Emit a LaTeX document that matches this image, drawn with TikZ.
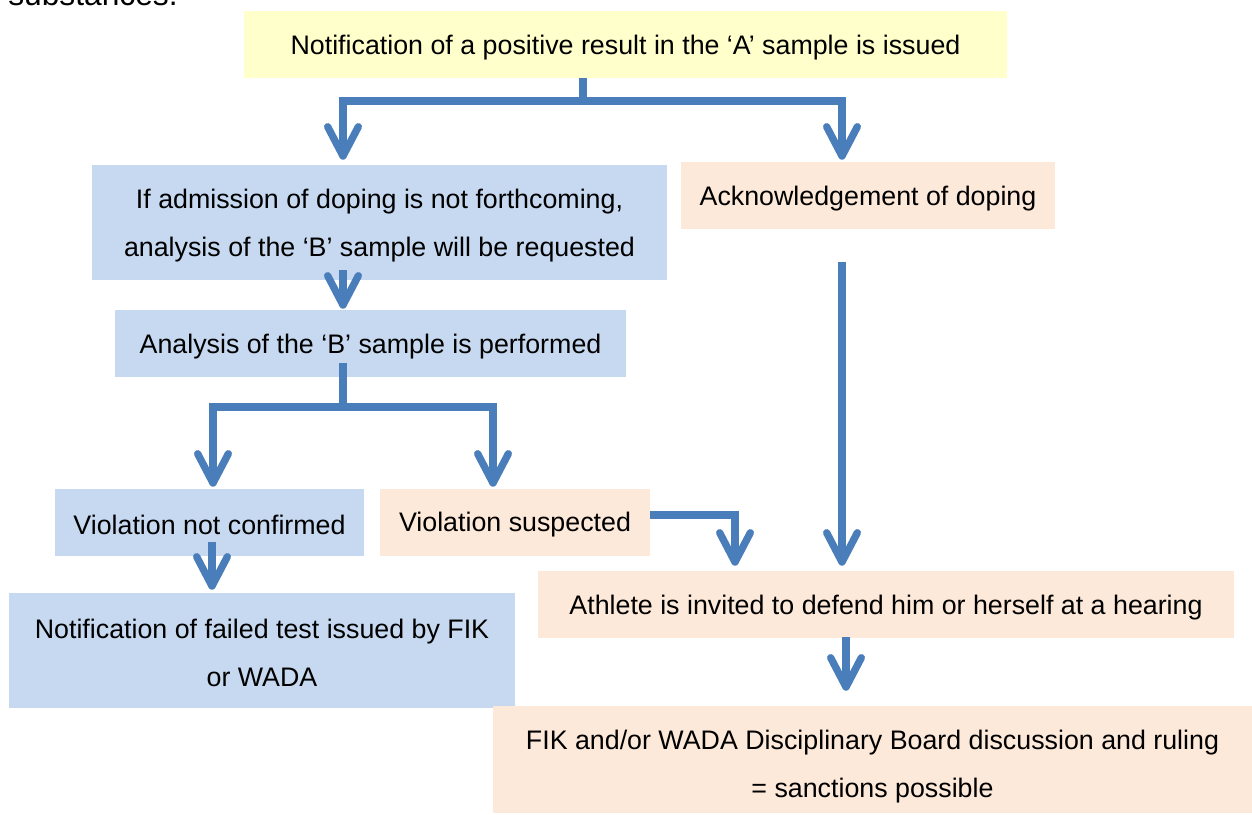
\documentclass[tikz,border=0pt]{standalone}
\usepackage{fontspec}
\setmainfont{Liberation Sans}
\usetikzlibrary{arrows.meta,calc}
\definecolor{boxyellow}{RGB}{255,255,204}
\definecolor{boxblue}{RGB}{198,217,240}
\definecolor{boxorange}{RGB}{253,233,217}
\definecolor{arrowblue}{RGB}{74,126,187}
\tikzset{
  box/.style={fill=#1, draw=none, inner sep=0pt},
  txt/.style={inner sep=0pt, align=center, yshift=-2.6pt,
    font=\fontsize{20.1}{36}\selectfont},
  ln/.style={draw=arrowblue, line width=5.5pt, line join=miter},
  arr/.style={ln, -{Straight Barb[length=22pt 0 0, width=23pt 0 0, round]}}
}
\begin{document}
\begin{tikzpicture}[x=0.75pt, y=-0.75pt]
\useasboundingbox (0,0) rectangle (1252,814);
\node[anchor=base west, inner sep=0pt, font=\fontsize{23.8}{28}\selectfont] (sub) at (8,5) {substances.};

\node[box=boxyellow, minimum width=763*0.75pt, minimum height=67*0.75pt] (top) at (625.5,44.5) {};
\node[box=boxblue, minimum width=575*0.75pt, minimum height=115*0.75pt] (adm) at (379.5,222.5) {};
\node[box=boxorange, minimum width=374*0.75pt, minimum height=67*0.75pt] (ack) at (868,195.5) {};
\node[box=boxblue, minimum width=511*0.75pt, minimum height=67*0.75pt] (ana) at (370.5,343.5) {};
\node[box=boxblue, minimum width=309*0.75pt, minimum height=67*0.75pt] (vnc) at (209.5,522.5) {};
\node[box=boxorange, minimum width=270*0.75pt, minimum height=67*0.75pt] (vs) at (515,522.5) {};
\node[box=boxorange, minimum width=696*0.75pt, minimum height=67*0.75pt] (ath) at (886,604.5) {};
\node[box=boxblue, minimum width=506*0.75pt, minimum height=115*0.75pt] (nf) at (262,650.5) {};
\node[box=boxorange, minimum width=759*0.75pt, minimum height=107*0.75pt] (fik) at (872.5,759.5) {};

\node[txt] (top-t) at (top.center) {Notification of a positive result in the ‘A’ sample is issued};
\node[txt] (adm-t) at (adm.center) {If admission of doping is not forthcoming,\\analysis of the ‘B’ sample will be requested};
\node[txt] (ack-t) at (ack.center) {Acknowledgement of doping};
\node[txt] (ana-t) at (ana.center) {Analysis of the ‘B’ sample is performed};
\node[txt, yshift=1pt] (vnc-t) at (vnc.center) {Violation not confirmed};
\node[txt, yshift=1pt] (vs-t) at (vs.center) {Violation suspected};
\node[txt] (ath-t) at (ath.center) {Athlete is invited to defend him or herself at a hearing};
\node[txt, yshift=1pt] (nf-t) at (nf.center) {Notification of failed test issued by FIK\\or WADA};
\node[txt, yshift=-2.6pt] (fik-t) at (fik.center) {FIK and/or WADA Disciplinary Board discussion and ruling\\= sanctions possible};

% top split
\coordinate (b1) at (583,101);
\coordinate (bl) at (343,101);
\coordinate (br) at (842,101);
\draw[ln] (top.south -| b1) -- (b1);
\draw[arr] (b1) -- (bl) -- ($(adm.north -| bl)+(0,-5)$);
\draw[arr] (b1) -- (br) -- ($(ack.north -| br)+(0,-2)$);

% admission -> analysis
\coordinate (s2) at (343,270);
\draw[arr] (s2) -- ($(ana.north -| s2)+(0,-1)$);

% analysis split
\coordinate (s3) at (343,363);
\coordinate (b3) at (343,407);
\coordinate (b3l) at (213,407);
\coordinate (b3r) at (493,407);
\draw[ln] (s3) -- (b3);
\draw[arr] (b3) -- (b3l) -- ($(vnc.north -| b3l)+(0,-2)$);
\draw[arr] (b3) -- (b3r) -- ($(vs.north -| b3r)+(0,-2)$);

% not confirmed -> notification
\coordinate (s4) at (212,542);
\draw[arr] (s4) -- ($(nf.north -| s4)+(0,-3)$);

% suspected -> athlete
\coordinate (c5) at (735,515);
\draw[arr] (vs.east |- c5) -- (c5) -- ($(ath.north -| c5)+(0,-5)$);

% acknowledgement -> athlete
\coordinate (a0) at (842,262);
\draw[arr] (a0) -- ($(ath.north -| a0)+(0,-5)$);

% athlete -> ruling
\coordinate (s7) at (846,637);
\draw[arr] (s7) -- ($(fik.north -| s7)+(0,-15)$);
\end{tikzpicture}
\end{document}
